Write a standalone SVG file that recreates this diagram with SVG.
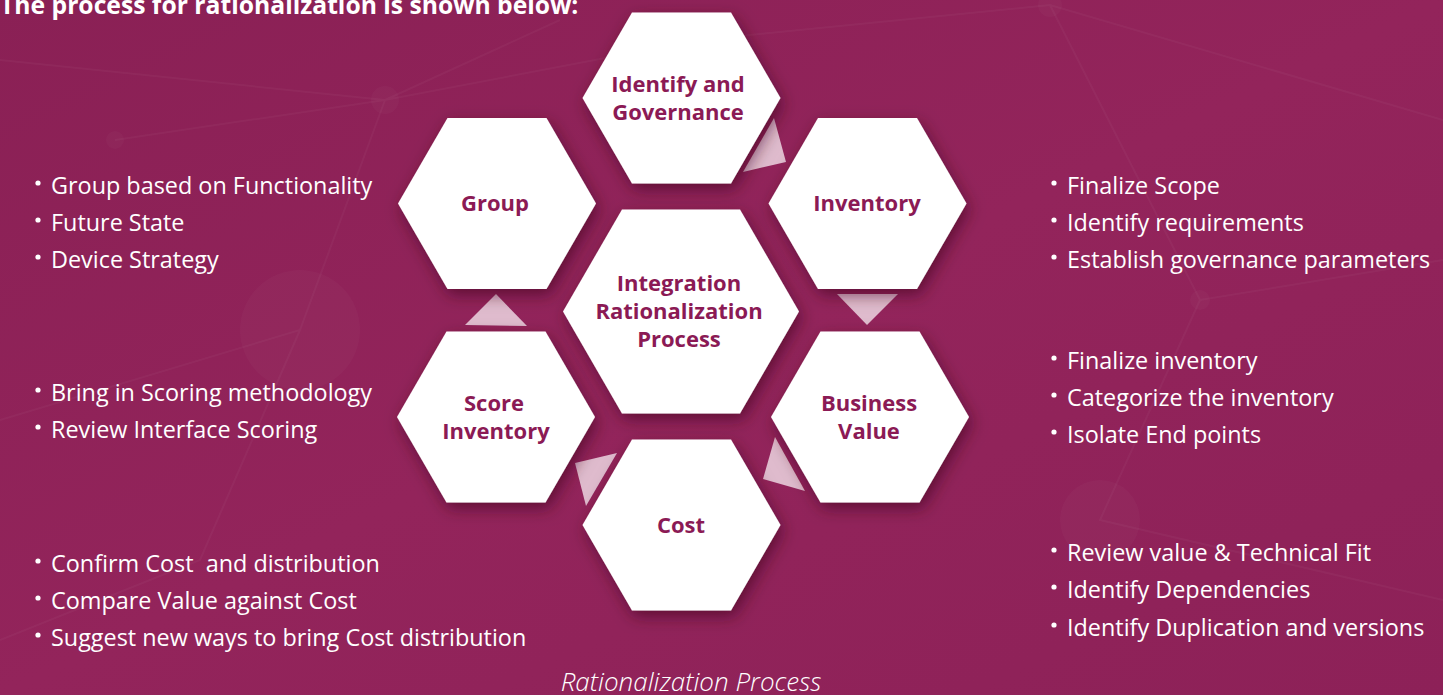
<svg xmlns="http://www.w3.org/2000/svg" width="1443" height="695" viewBox="0 0 1443 695">
  <defs>
    <linearGradient id="bg" x1="0" y1="0" x2="1" y2="1">
      <stop offset="0" stop-color="#8a2055"/>
      <stop offset="0.5" stop-color="#93245b"/>
      <stop offset="1" stop-color="#8d2158"/>
    </linearGradient>
    <filter id="sh" x="-30%" y="-30%" width="160%" height="160%">
      <feDropShadow dx="3" dy="6" stdDeviation="8" flood-color="#3c0520" flood-opacity="0.6"/>
    </filter>
    <style>
      .hex { fill: #ffffff; filter: url(#sh); }
      .hl { font-family: "Open Sans", "Noto Sans", sans-serif; font-weight: 700; font-size: 22px; fill: #8b1a55; text-anchor: middle; }
      .bl { font-family: "Open Sans", "Noto Sans", sans-serif; font-size: 23.4px; fill: #ffffff; white-space: pre; }
      .bu { fill: #ffffff; }
      .tri { fill: #ecd6e2; fill-opacity: 0.85; }
      .net { fill: none; stroke: #ffffff; stroke-opacity: 0.035; stroke-width: 2; }
      .dot { fill: #ffffff; fill-opacity: 0.025; }
    </style>
  </defs>
  <rect x="0" y="0" width="1443" height="695" fill="url(#bg)"/>
  <g id="background-network">
    <path class="net" d="M0 60 L385 100 L700 40 L1050 5 L1443 120 M385 100 L560 20 M115 140 L385 100 L300 330 L0 420 M1050 5 L1200 300 L1443 260 M1200 300 L1100 520 L1443 600 M300 330 L200 560 L0 640"/>
    <circle class="dot" cx="385" cy="100" r="14"/>
    <circle class="dot" cx="1050" cy="5" r="12"/>
    <circle class="dot" cx="115" cy="140" r="9"/>
    <circle class="dot" cx="1200" cy="300" r="10"/>
    <circle class="dot" cx="300" cy="330" r="60"/>
    <circle class="dot" cx="1100" cy="520" r="40"/>
  </g>
  <text x="0" y="14" font-family="'Open Sans', 'Noto Sans', sans-serif" font-weight="700" font-size="24.7" fill="#ffffff">The process for rationalization is shown below:</text>

  <g id="connectors">
    <polygon class="tri" points="743,172 774,118 786,162"/>
    <polygon class="tri" points="837,294 898,294 867,325"/>
    <polygon class="tri" points="775,437 763,479 805,491"/>
    <polygon class="tri" points="617,453 575,463 586,506"/>
    <polygon class="tri" points="496,294 465,325 527,326"/>
  </g>

  <g id="node-identify">
    <polygon class="hex" points="582.5,98 632,12.5 731,12.5 780.5,98 731,183.5 632,183.5"/>
    <text class="hl" x="678" y="92">Identify and</text>
    <text class="hl" x="678" y="120">Governance</text>
  </g>
  <g id="node-inventory">
    <polygon class="hex" points="768.5,203.5 818,118 917,118 966.5,203.5 917,289 818,289"/>
    <text class="hl" x="867" y="211">Inventory</text>
  </g>
  <g id="node-group">
    <polygon class="hex" points="398,203.5 447.5,118 546.5,118 596,203.5 546.5,289 447.5,289"/>
    <text class="hl" x="495" y="211">Group</text>
  </g>
  <g id="node-center">
    <polygon class="hex" points="563,311.5 622,209.5 740,209.5 799,311.5 740,413.5 622,413.5"/>
    <text class="hl" x="679" y="291">Integration</text>
    <text class="hl" x="679" y="319">Rationalization</text>
    <text class="hl" x="679" y="347">Process</text>
  </g>
  <g id="node-score">
    <polygon class="hex" points="397,417 446.5,331.5 545.5,331.5 595,417 545.5,502.5 446.5,502.5"/>
    <text class="hl" x="494" y="411">Score</text>
    <text class="hl" x="496" y="439">Inventory</text>
  </g>
  <g id="node-business">
    <polygon class="hex" points="771,417 820.5,331.5 919.5,331.5 969,417 919.5,502.5 820.5,502.5"/>
    <text class="hl" x="869" y="411">Business</text>
    <text class="hl" x="869" y="439">Value</text>
  </g>
  <g id="node-cost">
    <polygon class="hex" points="582.5,525 632,439.5 731,439.5 780.5,525 731,610.5 632,610.5"/>
    <text class="hl" x="681" y="533">Cost</text>
  </g>

  <g id="notes-left">
    <circle class="bu" cx="38" cy="183" r="2.6"/><text class="bl" x="51" y="194">Group based on Functionality</text>
    <circle class="bu" cx="38" cy="220" r="2.6"/><text class="bl" x="51" y="231">Future State</text>
    <circle class="bu" cx="38" cy="257" r="2.6"/><text class="bl" x="51" y="268">Device Strategy</text>
    <circle class="bu" cx="38" cy="390" r="2.6"/><text class="bl" x="51" y="401">Bring in Scoring methodology</text>
    <circle class="bu" cx="38" cy="427" r="2.6"/><text class="bl" x="51" y="438">Review Interface Scoring</text>
    <circle class="bu" cx="38" cy="561" r="2.6"/><text class="bl" x="51" y="572" xml:space="preserve">Confirm Cost  and distribution</text>
    <circle class="bu" cx="38" cy="598" r="2.6"/><text class="bl" x="51" y="609">Compare Value against Cost</text>
    <circle class="bu" cx="38" cy="635" r="2.6"/><text class="bl" x="51" y="646">Suggest new ways to bring Cost distribution</text>
  </g>
  <g id="notes-right">
    <circle class="bu" cx="1054" cy="183" r="2.6"/><text class="bl" x="1067" y="194">Finalize Scope</text>
    <circle class="bu" cx="1054" cy="220" r="2.6"/><text class="bl" x="1067" y="231">Identify requirements</text>
    <circle class="bu" cx="1054" cy="257" r="2.6"/><text class="bl" x="1067" y="268">Establish governance parameters</text>
    <circle class="bu" cx="1054" cy="358" r="2.6"/><text class="bl" x="1067" y="369">Finalize inventory</text>
    <circle class="bu" cx="1054" cy="395" r="2.6"/><text class="bl" x="1067" y="406">Categorize the inventory</text>
    <circle class="bu" cx="1054" cy="432" r="2.6"/><text class="bl" x="1067" y="443">Isolate End points</text>
    <circle class="bu" cx="1054" cy="550" r="2.6"/><text class="bl" x="1067" y="561">Review value &amp; Technical Fit</text>
    <circle class="bu" cx="1054" cy="587" r="2.6"/><text class="bl" x="1067" y="598">Identify Dependencies</text>
    <circle class="bu" cx="1054" cy="625" r="2.6"/><text class="bl" x="1067" y="636">Identify Duplication and versions</text>
  </g>
  <text x="691" y="691" text-anchor="middle" font-family="'Open Sans', 'Noto Sans', sans-serif" font-style="italic" font-weight="300" font-size="26" fill="#ffffff">Rationalization Process</text>
</svg>
